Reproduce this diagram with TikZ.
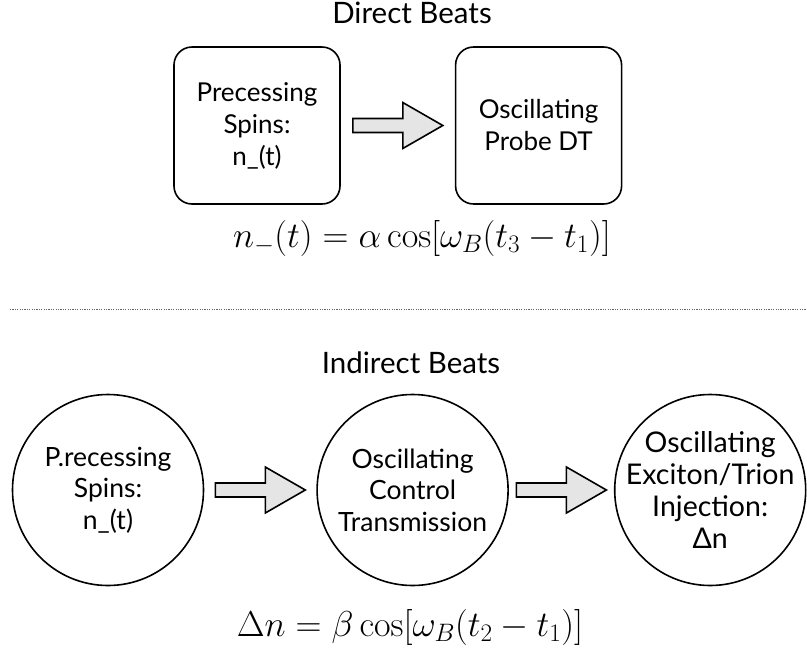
\documentclass[tikz,border=0pt]{standalone}
\usepackage{fix-cm}
\usepackage[no-math]{fontspec}
\setmainfont{Lato}
\usetikzlibrary{positioning, calc}

\tikzset{
    blockarrow/.pic={
        \draw[line width=1.6pt, line join=miter, fill=black!10]
            (-45,-7) -- (5,-7) -- (5,-23) -- (45,0) -- (5,23) -- (5,7) -- (-45,7) -- cycle;
    }
}

\begin{document}
\begin{tikzpicture}[
    x=1pt, y=-1pt,
    every node/.style={font=\fontsize{26}{32}\selectfont},
    heading/.style={anchor=base, font=\fontsize{29.5}{34}\selectfont},
    roundbox/.style={rectangle, rounded corners=18pt, draw, line width=1.6pt,
        align=center, minimum width=166pt, minimum height=157pt, inner sep=0pt},
    spinball/.style={circle, draw, line width=1.6pt, align=center,
        minimum size=191pt, inner sep=-30pt, font=\fontsize{26.5}{31.5}\selectfont},
    formula/.style={anchor=base, font=\fontsize{36}{40}\selectfont},
    sepline/.style={draw=black!60, line width=0.9pt, dash pattern=on 1.2pt off 1.2pt}
]
\useasboundingbox (0,0) rectangle (807,649);

% direct beats
\node[heading] (direct) at (412,23) {Direct Beats};
\node[roundbox] (spins) at (257,125.5) {Precessing\\Spins:\\n\_(t)};
\node[roundbox, right=114pt of spins] (probe) {Oscillating\\Probe DT};
\pic at ($(spins.east)!0.5!(probe.west)$) {blockarrow};
\node[formula] (eqdirect) at (422,247) {$n_-(t) = \alpha\cos[\omega_B(t_3 - t_1)]$};

\coordinate (sepl) at (10,309);
\coordinate (sepr) at (807,309);
\draw[sepline] (sepl) -- (sepr);

% indirect beats
\node[heading] (indirect) at (411,373) {Indirect Beats};
\node[spinball] (pspins) at (108,490) {P.recessing\\Spins:\\n\_(t)};
\node[spinball, right=112pt of pspins] (control) {Oscillating\\Control\\Transmission};
\node[spinball, right=105pt of control, font=\fontsize{28.5}{32}\selectfont] (inject)
    {Oscillating\\Exciton/Trion\\Injection:\\Δn};
\pic at ($(pspins.east)!0.5!(control.west)$) {blockarrow};
\pic at ($(control.east)!0.5!(inject.west)$) {blockarrow};
\node[formula] (eqindirect) at (410,636) {$\Delta n = \beta\cos[\omega_B(t_2 - t_1)]$};
\end{tikzpicture}
\end{document}
